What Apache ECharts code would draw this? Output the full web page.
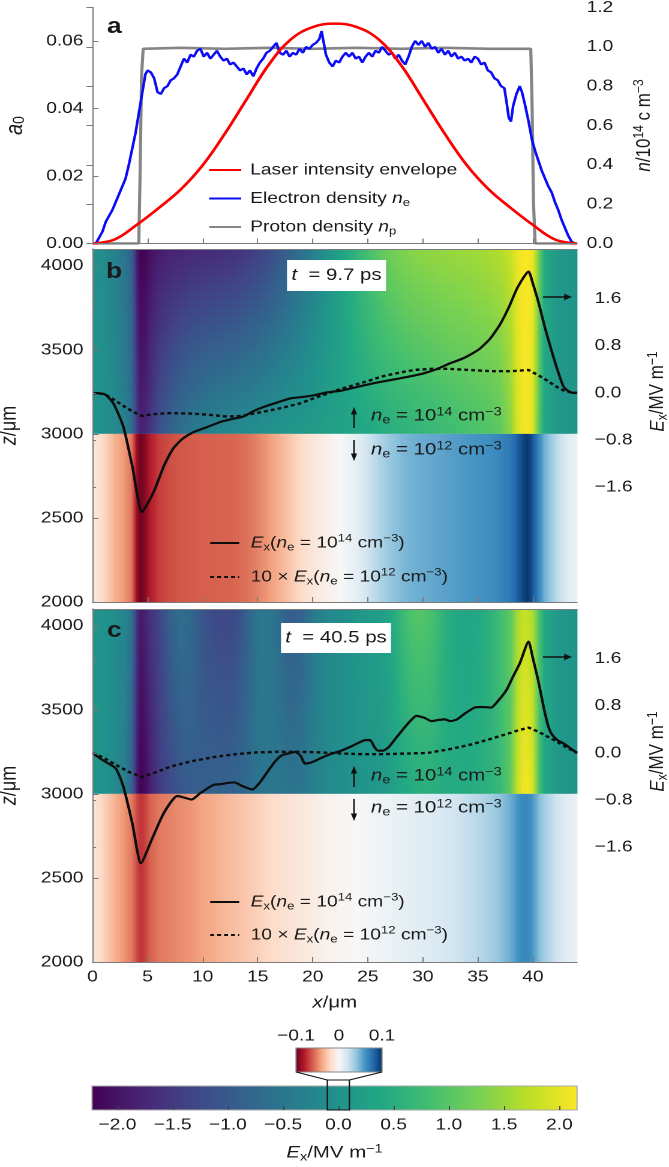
<!DOCTYPE html>
<html><head><meta charset="utf-8">
<script src="https://cdn.jsdelivr.net/npm/echarts@6.0.0/dist/echarts.min.js"></script>
<style>
html,body{margin:0;padding:0;background:#fff;overflow:hidden;}
#c{width:557.5px;height:1167px;transform:scaleX(1.2);transform-origin:0 0;}
</style></head><body><div id="c"></div>
<script>
// ---------------- data ----------------
const xTicks = [0,5,10,15,20,25,30,35,40];
const a0Ticks = [0,0.02,0.04,0.06];
const nTicks = [0,0.2,0.4,0.6,0.8,1.0,1.2];
const zTicks = [2000,2500,3000,3500,4000];
const exTicks = [-1.6,-0.8,0,0.8,1.6];
const cbTicks = [-2,-1.5,-1,-0.5,0,0.5,1,1.5,2];
const insetTicks = [-0.1,0,0.1];
const cbRange = [-2.23, 2.16];
const insetRange = [-0.1, 0.1];

const aLaser = [[0,0],[2,0.0012],[4,0.0055],[6,0.0105],[8,0.016],[10,0.0232],[12,0.0325],[14,0.0428],[16,0.053],[18,0.0605],[20,0.0642],[22,0.0652],[24,0.0642],[26,0.0605],[28,0.053],[30,0.0428],[32,0.0325],[34,0.0232],[36,0.016],[38,0.0105],[40,0.0055],[42,0.0012],[44,0]];
const aElectron = [[0.3,0],[0.6,0.03],[0.9,0.06],[1.2,0.11],[1.5,0.14],[1.8,0.17],[2.1,0.21],[2.4,0.25],[2.7,0.29],[3.0,0.33],[3.3,0.40],[3.6,0.48],[3.9,0.56],[4.2,0.66],[4.5,0.76],[4.8,0.86],[5.0,0.88],[5.3,0.87],[5.6,0.84],[5.9,0.77],[6.2,0.76],[6.5,0.79],[6.8,0.80],[7.1,0.83],[7.4,0.84],[7.7,0.86],[8.0,0.90],[8.3,0.94],[8.6,0.92],[8.9,0.96],[9.2,0.95],[9.5,0.98],[9.8,0.99],[10.1,0.95],[10.4,0.97],[10.7,0.94],[11.0,0.96],[11.3,0.98],[11.6,0.95],[11.9,0.93],[12.2,0.94],[12.5,0.91],[12.8,0.92],[13.1,0.90],[13.4,0.88],[13.7,0.89],[14.0,0.86],[14.3,0.88],[14.6,0.85],[14.9,0.89],[15.2,0.92],[15.5,0.94],[15.8,0.97],[16.1,0.98],[16.4,1.00],[16.7,1.02],[17.0,0.97],[17.3,0.96],[17.6,0.98],[17.9,0.95],[18.2,0.97],[18.5,0.96],[18.8,0.99],[19.1,0.97],[19.4,1.00],[19.7,0.99],[20.0,1.01],[20.3,1.02],[20.6,1.04],[20.8,1.08],[21.0,1.02],[21.2,0.96],[21.5,0.92],[21.8,0.90],[22.1,0.93],[22.4,0.92],[22.7,0.95],[23.0,0.97],[23.3,0.95],[23.6,0.97],[23.9,0.94],[24.2,0.95],[24.5,0.92],[24.8,0.95],[25.1,0.97],[25.4,0.95],[25.7,0.98],[26.0,0.97],[26.3,1.00],[26.6,0.98],[26.9,0.96],[27.2,0.97],[27.5,0.94],[27.8,0.96],[28.1,0.93],[28.4,0.91],[28.7,0.95],[29.0,1.00],[29.3,1.03],[29.6,1.01],[29.9,1.03],[30.2,1.00],[30.5,1.02],[30.8,0.99],[31.1,1.00],[31.4,0.97],[31.7,0.99],[32.0,0.96],[32.3,0.98],[32.6,0.95],[32.9,0.97],[33.2,0.94],[33.5,0.95],[33.8,0.93],[34.1,0.94],[34.4,0.92],[34.7,0.95],[35.0,0.94],[35.3,0.91],[35.6,0.92],[35.9,0.88],[36.2,0.87],[36.5,0.84],[36.8,0.83],[37.1,0.80],[37.4,0.79],[37.6,0.72],[37.8,0.64],[38.0,0.62],[38.2,0.70],[38.5,0.76],[38.8,0.80],[39.0,0.77],[39.3,0.70],[39.6,0.62],[39.9,0.53],[40.2,0.47],[40.5,0.42],[40.8,0.37],[41.1,0.33],[41.4,0.29],[41.7,0.26],[42.0,0.21],[42.3,0.17],[42.6,0.12],[42.9,0.08],[43.2,0.04],[43.5,0.01],[43.8,0]];
const aProton = [[0,0],[4.2,0],[4.32,0.35],[4.45,0.85],[4.6,0.99],[8,0.995],[12,0.99],[16,0.995],[20,0.99],[24,0.995],[28,0.99],[32,0.995],[36,0.99],[39.8,0.99],[39.92,0.7],[40.05,0.2],[40.2,0],[44,0]];

const bSolid = [[0,0],[1.1,-0.02],[1.9,-0.18],[2.8,-0.57],[3.6,-1.23],[4.5,-2.02],[5.55,-1.68],[6.5,-1.23],[7.3,-0.95],[8.1,-0.79],[9.0,-0.68],[9.8,-0.62],[10.8,-0.55],[11.8,-0.48],[12.7,-0.44],[13.7,-0.40],[14.6,-0.31],[15.65,-0.23],[16.8,-0.16],[18.0,-0.09],[19.0,-0.07],[20.1,-0.04],[21.3,0.01],[22.6,0.04],[24.0,0.10],[25.4,0.16],[26.5,0.20],[27.7,0.24],[28.8,0.28],[30.0,0.33],[31.2,0.40],[32.3,0.49],[33.8,0.60],[35.1,0.74],[36.1,0.92],[37.0,1.16],[37.8,1.45],[38.6,1.79],[39.6,2.06],[40.0,1.85],[40.5,1.54],[41.1,1.10],[41.7,0.71],[42.3,0.35],[42.8,0.10],[43.4,0.01],[44,0]];
const bDashed = [[0,0],[1.1,-0.02],[2.0,-0.12],[2.8,-0.22],[3.7,-0.32],[4.5,-0.39],[5.5,-0.36],[7.1,-0.34],[9.0,-0.35],[10.6,-0.37],[12.2,-0.40],[13.5,-0.39],[14.9,-0.34],[16.8,-0.27],[18.8,-0.18],[20.7,-0.05],[22.6,0.07],[24.6,0.18],[26.5,0.29],[28.0,0.35],[29.2,0.39],[30.8,0.41],[32.3,0.41],[34.2,0.39],[36.2,0.37],[38.0,0.37],[39.6,0.39],[40.5,0.30],[41.3,0.21],[42.1,0.11],[42.8,0.04],[43.5,0.01],[44,0]];
const cSolid = [[0,0],[0.9,-0.12],[2.1,-0.26],[2.8,-0.57],[3.6,-1.18],[4.4,-1.87],[5.4,-1.46],[6.5,-1.01],[7.7,-0.73],[8.4,-0.76],[9.0,-0.79],[9.8,-0.68],[11.0,-0.54],[11.6,-0.53],[12.2,-0.51],[12.9,-0.50],[13.6,-0.56],[14.5,-0.62],[15.2,-0.50],[16.0,-0.29],[16.6,-0.14],[17.2,-0.04],[18.0,0.0],[18.4,0.02],[18.9,-0.05],[19.3,-0.18],[19.9,-0.16],[20.7,-0.09],[21.6,-0.02],[22.6,0.04],[23.6,0.12],[24.6,0.21],[25.2,0.22],[25.6,0.10],[25.9,0.04],[26.4,0.04],[26.9,0.10],[27.5,0.24],[28.1,0.38],[28.8,0.53],[29.4,0.63],[30.1,0.60],[30.8,0.54],[31.4,0.56],[32.0,0.57],[32.5,0.54],[33.1,0.57],[33.9,0.68],[34.7,0.77],[35.4,0.78],[36.2,0.77],[36.9,0.90],[37.6,1.07],[38.2,1.30],[38.8,1.52],[39.6,1.89],[40.0,1.60],[40.5,1.21],[41.0,0.75],[41.4,0.45],[41.7,0.32],[42.2,0.22],[42.8,0.16],[43.4,0.08],[44,0]];
const cDashed = [[0,0],[1.0,-0.08],[2.1,-0.2],[3.3,-0.32],[4.5,-0.41],[5.7,-0.33],[7.1,-0.23],[9.0,-0.14],[11.0,-0.07],[13.0,-0.02],[14.9,0.01],[16.8,0.02],[18.8,0.02],[20.7,0.01],[22.6,-0.01],[24.6,-0.02],[26.5,-0.02],[28.5,-0.01],[30.4,0.0],[32.3,0.06],[34.3,0.14],[36.0,0.23],[37.4,0.31],[38.6,0.38],[39.6,0.43],[40.5,0.36],[41.3,0.28],[42.1,0.20],[43.0,0.10],[44,0]];

// field maps: column nodes along x; viridis part at z=4100 (top) and z=3000 (bottom); RdBu part (ne=1e12)
const zRange = [2000, 3000, 4100];
const xNodes = [0,1,2,3,3.6,4.0,4.3,4.7,5.2,6,7,8,9,10,11,12,13,14,15,16,17,18,19,20,21,22,23,24,25,26,27,28,29,30,31,32,33,34,35,36,37,38,38.5,39,39.5,40,40.5,41,42,43,44];
const bTopEx = [-0.05,-0.1,-0.3,-0.55,-0.9,-1.8,-2.2,-2.2,-2.05,-1.9,-1.82,-1.77,-1.73,-1.7,-1.68,-1.65,-1.6,-1.5,-1.4,-1.25,-1.05,-0.85,-0.6,-0.35,-0.1,0.15,0.4,0.65,0.85,1.05,1.2,1.3,1.38,1.42,1.45,1.48,1.5,1.52,1.55,1.6,1.65,1.8,2.0,2.12,2.15,2.05,1.3,0.5,0.15,0.05,0.05];
const bBotEx = [0.0,-0.05,-0.15,-0.35,-0.7,-1.4,-1.8,-1.8,-1.55,-1.15,-0.85,-0.6,-0.45,-0.35,-0.25,-0.2,-0.15,-0.1,-0.05,0.0,0.05,0.1,0.12,0.15,0.2,0.25,0.3,0.35,0.4,0.45,0.5,0.55,0.6,0.65,0.7,0.75,0.8,0.85,0.9,0.95,1.05,1.4,1.85,2.05,2.1,1.95,1.1,0.4,0.15,0.05,0.05];
const bLowEx = [-0.01,-0.02,-0.035,-0.045,-0.055,-0.085,-0.097,-0.093,-0.08,-0.07,-0.065,-0.062,-0.061,-0.06,-0.06,-0.059,-0.058,-0.055,-0.05,-0.043,-0.035,-0.027,-0.019,-0.012,-0.007,-0.002,0.003,0.01,0.02,0.03,0.038,0.044,0.048,0.05,0.052,0.054,0.056,0.058,0.06,0.062,0.066,0.072,0.08,0.09,0.098,0.085,0.068,0.05,0.03,0.014,0.005];
const cTopEx = [0.05,0.0,-0.1,-0.25,-0.6,-1.5,-1.9,-1.85,-1.6,-1.35,-0.9,-0.6,-0.75,-1.1,-1.25,-1.3,-1.25,-0.9,-0.5,-0.45,-0.7,-0.95,-0.85,-0.45,-0.25,-0.15,-0.05,0.05,0.15,0.2,0.35,0.7,0.95,1.0,0.85,0.55,0.4,0.35,0.4,0.55,0.8,1.05,1.5,1.75,1.75,1.6,1.0,0.45,0.15,0.05,0.05];
const cBotEx = [0.05,0.0,-0.15,-0.4,-0.9,-1.8,-2.2,-2.15,-1.9,-1.5,-1.25,-1.05,-0.95,-0.9,-0.85,-0.85,-0.8,-0.7,-0.55,-0.5,-0.5,-0.55,-0.5,-0.35,-0.2,-0.1,-0.05,0.0,0.05,0.1,0.2,0.35,0.45,0.5,0.5,0.45,0.45,0.45,0.5,0.55,0.7,1.1,1.7,2.05,2.1,1.9,1.0,0.4,0.15,0.05,0.05];
const cLowEx = [-0.012,-0.022,-0.035,-0.046,-0.053,-0.065,-0.072,-0.07,-0.06,-0.053,-0.05,-0.047,-0.044,-0.04,-0.037,-0.033,-0.03,-0.027,-0.024,-0.02,-0.017,-0.014,-0.011,-0.008,-0.005,-0.003,-0.001,0.0,0.002,0.004,0.006,0.008,0.01,0.012,0.014,0.017,0.02,0.024,0.028,0.033,0.04,0.05,0.058,0.065,0.066,0.058,0.045,0.035,0.022,0.012,0.006];

// ---------------- style / layout ----------------
const SX = 1.2; // reference figure is stretched horizontally
const PL = 92.5 / SX, PR = 577 / SX, PWd = PR - PL;
const FONT = "'Liberation Sans', Arial, Helvetica, sans-serif";
const TXT = '#1a1a1a', AX = '#7a7a7a';
const G = [
  {left: PL, width: PWd, top: 7.5, height: 236},
  {left: PL, width: PWd, top: 249, height: 353},
  {left: PL, width: PWd, top: 258, height: 267},
  {left: PL, width: PWd, top: 609, height: 353},
  {left: PL, width: PWd, top: 618, height: 267},
  {left: 92 / SX, width: 485 / SX, top: 1086, height: 24},
  {left: 296 / SX, width: 86 / SX, top: 1048, height: 24}
];
const VIR = ['#440154','#482475','#414487','#355f8d','#2a788e','#21918c','#22a884','#44bf70','#7ad151','#bddf26','#fde725'];
const RDBU = ['#67001f','#b2182b','#d6604d','#f4a582','#fddbc7','#f7f7f7','#d1e5f0','#92c5de','#4393c3','#2166ac','#053061'];
const hexRgb = h => [parseInt(h.slice(1,3),16), parseInt(h.slice(3,5),16), parseInt(h.slice(5,7),16)];
const virRGB = VIR.map(hexRgb), rdRGB = RDBU.map(hexRgb);
function cmap(tab, t) {
  t = Math.max(0, Math.min(1, t));
  const n = tab.length - 1; let k = Math.floor(t * n); if (k >= n) k = n - 1;
  const f = t * n - k, a = tab[k], b = tab[k + 1];
  return 'rgb(' + [0,1,2].map(j => Math.round(a[j] + (b[j] - a[j]) * f)).join(',') + ')';
}
const virC = v => cmap(virRGB, (v - cbRange[0]) / (cbRange[1] - cbRange[0]));
const rdC = v => cmap(rdRGB, (v - insetRange[0]) / (insetRange[1] - insetRange[0]));
function grad(v0, v1, cf) {
  const st = [];
  for (let s = 0; s <= 4; s++) st.push({offset: s / 4, color: cf(v0 + (v1 - v0) * s / 4)});
  return new echarts.graphic.LinearGradient(0, 0, 1, 0, st);
}
const rich = fs => ({
  i: {fontStyle: 'italic', fontSize: fs, fontFamily: FONT, color: TXT},
  sup: {fontSize: Math.round(fs * 0.68), verticalAlign: 'top', fontFamily: FONT, color: TXT},
  sub: {fontSize: Math.round(fs * 0.68), verticalAlign: 'bottom', fontFamily: FONT, color: TXT}
});
const richG = fs => ({
  i: {fontStyle: 'italic', fontSize: fs, fontFamily: FONT, fill: TXT},
  sup: {fontSize: Math.round(fs * 0.68), verticalAlign: 'top', fontFamily: FONT, fill: TXT},
  sub: {fontSize: Math.round(fs * 0.68), verticalAlign: 'bottom', fontFamily: FONT, fill: TXT}
});
const minus = s => s.replace('-', '\u2212');
const fmt = d => v => minus(Number(v).toFixed(d));
const lbl = (extra) => Object.assign({fontSize: 16, fontFamily: FONT, color: TXT}, extra);
const nameStyle = fs => ({fontSize: fs, fontFamily: FONT, color: TXT, lineHeight: 20, rich: rich(fs)});
const frame = {show: true, lineStyle: {color: AX, width: 1}};
const tickIn = vals => ({show: true, inside: true, length: 5, lineStyle: {color: AX}, customValues: vals});

function xA(grid, opts) {
  return Object.assign({type: 'value', gridIndex: grid, min: 0, max: 44, splitLine: {show: false},
    axisLine: frame, axisTick: {show: false}, axisLabel: {show: false}, z: 10}, opts);
}
function yA(grid, opts) {
  return Object.assign({type: 'value', gridIndex: grid, splitLine: {show: false},
    axisLine: frame, axisTick: {show: false}, axisLabel: {show: false}, z: 10}, opts);
}
const exAxis = grid => yA(grid, {position: 'right', offset: 6.7, min: -2.24, max: 2.29,
  axisLine: {show: true, lineStyle: {color: '#777', width: 1}},
  axisTick: {show: true, inside: false, length: 3, lineStyle: {color: '#777'}, customValues: exTicks},
  axisLabel: lbl({show: true, customValues: exTicks, formatter: fmt(1), margin: 8}),
  name: '{i|E}{sub|x}/MV m{sup|\u22121}', nameLocation: 'middle', nameRotate: 90, nameGap: 46, nameTextStyle: nameStyle(17)});
const zAxis = grid => yA(grid, {position: 'left', min: zRange[0], max: zRange[2], axisTick: tickIn(zTicks),
  axisLabel: lbl({show: true, customValues: zTicks, formatter: v => String(v), margin: 7.5}),
  name: '{i|z}/\u03bcm', nameLocation: 'middle', nameRotate: 90, nameGap: 59, nameTextStyle: nameStyle(18)});

function heatItem(top, bot, low) {
  return function (params, api) {
    const i = api.value(2);
    const x0 = xNodes[i], x1 = xNodes[i + 1];
    const pa = api.coord([x0, zRange[1]]), pb = api.coord([x1, zRange[1]]);
    const xl = pa[0] - 0.35, w = pb[0] + 0.35 - xl;
    const kids = [];
    const S = 22;
    for (let k = 0; k < S; k++) {
      const za = zRange[1] + (zRange[2] - zRange[1]) * k / S;
      const zb = zRange[1] + (zRange[2] - zRange[1]) * (k + 1) / S;
      const ya = api.coord([x0, za])[1], yb = api.coord([x0, zb])[1];
      const f = (k + 0.5) / S;
      const vl = bot[i] + (top[i] - bot[i]) * f, vr = bot[i + 1] + (top[i + 1] - bot[i + 1]) * f;
      kids.push({type: 'rect', shape: {x: xl, y: yb - 0.35, width: w, height: ya - yb + (k === 0 ? 0.35 : 0.7)},
        style: {fill: grad(vl, vr, virC)}});
    }
    const y0 = api.coord([x0, zRange[0]])[1];
    kids.push({type: 'rect', shape: {x: xl, y: pa[1], width: w, height: y0 - pa[1]}, style: {fill: grad(low[i], low[i + 1], rdC)}});
    return {type: 'group', children: kids};
  };
}
const heatData = xNodes.slice(0, -1).map((x, i) => [x, xNodes[i + 1], i]);

const lineS = (name, data, xi, yi, color, width, extra) => Object.assign({
  type: 'line', name, data, xAxisIndex: xi, yAxisIndex: yi, showSymbol: false, symbol: 'none',
  lineStyle: {color, width}, itemStyle: {color}, z: 5, animation: false}, extra);

const LEG = {
  'Laser intensity envelope': 'Laser intensity envelope',
  'Electron density': 'Electron density {i|n}{sub|e}',
  'Proton density': 'Proton density {i|n}{sub|p}',
  'Ex14': '{i|E}{sub|x}({i|n}{sub|e} = 10{sup|14} cm{sup|\u22123})',
  'Ex12': '10 \u00d7 {i|E}{sub|x}({i|n}{sub|e} = 10{sup|12} cm{sup|\u22123})'
};
const legendBase = (data, left, top, iw, gap, pad) => ({
  data, orient: 'vertical', left, top, padding: 0, itemWidth: iw, itemHeight: 12, itemGap: gap, selectedMode: false,
  itemStyle: {opacity: 0, color: 'rgba(0,0,0,0)', borderColor: 'rgba(0,0,0,0)', borderWidth: 0},
  textStyle: {fontSize: 16, fontFamily: FONT, color: TXT, lineHeight: 20, padding: [0, 0, 0, pad], rich: rich(16)},
  formatter: n => LEG[n]
});

// annotations
function gText(x, y, text, fs, extra) {
  return Object.assign({type: 'text', x, y, z: 100, style: {text, fontSize: fs, fontFamily: FONT, fill: TXT,
    align: 'left', verticalAlign: 'middle', lineHeight: 20, rich: richG(fs)}}, extra || {});
}
function vArrow(x, y0, y1) { // from y0 to y1 (head at y1)
  const d = y1 > y0 ? 1 : -1;
  return [
    {type: 'line', z: 100, shape: {x1: x, y1: y0, x2: x, y2: y1 - d * 6}, style: {stroke: '#111', lineWidth: 1.3}},
    {type: 'polygon', z: 100, shape: {points: [[x, y1], [x - 2.6, y1 - d * 7.5], [x + 2.6, y1 - d * 7.5]]}, style: {fill: '#111'}}
  ];
}
function hArrow(x0, x1, y) {
  return [
    {type: 'line', z: 100, shape: {x1: x0, y1: y, x2: x1 - 5, y2: y}, style: {stroke: '#111', lineWidth: 1.4}},
    {type: 'polygon', z: 100, shape: {points: [[x1, y], [x1 - 6.5, y - 3.3], [x1 - 6.5, y + 3.3]]}, style: {fill: '#111'}}
  ];
}
const AX_ = 354 / SX, TX_ = 371 / SX;
const letter = (x, y, t) => ({type: 'text', x, y, z: 100, style: {text: t, fontSize: 22, fontWeight: 'bold', fontFamily: FONT, fill: TXT, verticalAlign: 'middle'}});
const tLabel = (cx, cy, t) => ({type: 'text', x: cx, y: cy, z: 100, style: {text: '{i|t}  = ' + t, fontSize: 17, fontFamily: FONT, fill: TXT, align: 'center', verticalAlign: 'middle', rich: richG(17)}});
const graphics = [
  letter(107 / SX, 27, 'a'), letter(106 / SX, 272, 'b'), letter(107 / SX, 631, 'c'),
  {type: 'rect', z: 99, shape: {x: 287 / SX, y: 260, width: 99 / SX, height: 31}, style: {fill: '#fff'}},
  tLabel(336.5 / SX, 275.5, '9.7 ps'),
  {type: 'rect', z: 99, shape: {x: 281 / SX, y: 623, width: 110 / SX, height: 30}, style: {fill: '#fff'}},
  tLabel(336 / SX, 638, '40.5 ps'),
  gText(TX_, 416, '{i|n}{sub|e} = 10{sup|14} cm{sup|\u22123}', 17),
  gText(TX_, 450, '{i|n}{sub|e} = 10{sup|12} cm{sup|\u22123}', 17),
  gText(TX_, 776, '{i|n}{sub|e} = 10{sup|14} cm{sup|\u22123}', 17),
  gText(TX_, 808, '{i|n}{sub|e} = 10{sup|12} cm{sup|\u22123}', 17),
  ...vArrow(AX_, 428, 407), ...vArrow(AX_, 440, 461),
  ...vArrow(AX_, 787, 766), ...vArrow(AX_, 799, 821),
  ...hArrow(543 / SX, 572 / SX, 297), ...hArrow(543 / SX, 572 / SX, 657)
];

const option = {
  animation: false,
  backgroundColor: '#fff',
  grid: G.map(g => Object.assign({containLabel: false, outerBoundsMode: 'none'}, g)),
  xAxis: [
    xA(0, {position: 'bottom', axisTick: tickIn(xTicks)}),
    xA(0, {position: 'top'}),
    xA(1, {position: 'bottom', axisTick: tickIn(xTicks)}),
    xA(1, {position: 'top'}),
    xA(2, {show: false}),
    xA(3, {position: 'bottom', axisTick: tickIn(xTicks),
      axisLabel: lbl({show: true, customValues: xTicks, formatter: v => String(v), margin: 7}),
      name: '{i|x}/\u03bcm', nameLocation: 'middle', nameGap: 31, nameTextStyle: nameStyle(17)}),
    xA(3, {position: 'top'}),
    xA(4, {show: false}),
    {type: 'value', gridIndex: 5, min: cbRange[0], max: cbRange[1], splitLine: {show: false}, axisLine: {show: false}, z: 10,
      axisTick: {show: true, inside: true, length: 4, lineStyle: {color: '#444'}, customValues: cbTicks},
      axisLabel: lbl({customValues: cbTicks, formatter: fmt(1), margin: 7}),
      name: '{i|E}{sub|x}/MV m{sup|\u22121}', nameLocation: 'middle', nameGap: 33, nameTextStyle: nameStyle(17)},
    {type: 'value', gridIndex: 6, min: insetRange[0], max: insetRange[1], position: 'top', splitLine: {show: false},
      axisLine: {show: false}, axisTick: {show: false}, z: 10,
      axisLabel: lbl({customValues: insetTicks, formatter: v => (Math.abs(v) < 1e-9 ? '0' : fmt(1)(v)), margin: 4})}
  ],
  yAxis: [
    yA(0, {position: 'left', min: 0, max: 0.07, axisTick: tickIn(a0Ticks),
      axisLabel: lbl({show: true, customValues: a0Ticks, formatter: fmt(2), margin: 7.5}),
      name: '{i|a}{sub|0}', nameLocation: 'middle', nameRotate: 90, nameGap: 54, nameTextStyle: nameStyle(20)}),
    yA(0, {position: 'right', min: 0, max: 1.2, axisTick: tickIn(nTicks),
      axisLabel: lbl({show: true, customValues: nTicks, formatter: fmt(1), margin: 8}),
      name: '{i|n}/10{sup|14} c m{sup|\u22123}', nameLocation: 'middle', nameRotate: 90, nameGap: 46, nameTextStyle: nameStyle(17)}),
    zAxis(1),
    yA(1, {position: 'right', min: zRange[0], max: zRange[2]}),
    exAxis(2),
    zAxis(3),
    yA(3, {position: 'right', min: zRange[0], max: zRange[2]}),
    exAxis(4),
    {type: 'value', gridIndex: 5, min: 0, max: 1, show: false},
    {type: 'value', gridIndex: 6, min: 0, max: 1, show: false}
  ],
  legend: [
    legendBase(['Laser intensity envelope', 'Electron density', 'Proton density'], 208 / SX, 160, 32 / SX, 8.5, 2.5),
    legendBase(['Ex14', 'Ex12'], 209 / SX, 533, 29 / SX, 14, 4.5),
    legendBase(['Ex14', 'Ex12'], 209 / SX, 892, 29 / SX, 13, 4.5)
  ],
  series: [
    {type: 'custom', name: 'field b', xAxisIndex: 2, yAxisIndex: 2, data: heatData, renderItem: heatItem(bTopEx, bBotEx, bLowEx), clip: true, z: 1, silent: true},
    {type: 'custom', name: 'field c', xAxisIndex: 5, yAxisIndex: 5, data: heatData, renderItem: heatItem(cTopEx, cBotEx, cLowEx), clip: true, z: 1, silent: true},
    lineS('Proton density', aProton, 0, 1, '#858585', 2.6, {z: 3}),
    lineS('Electron density', aElectron, 0, 1, '#0b0bf5', 2.2, {z: 4}),
    lineS('Laser intensity envelope', aLaser, 0, 0, '#fa0000', 2.5, {z: 5, smooth: 0.4}),
    lineS('Ex14', bSolid, 4, 4, '#0d0d0d', 2.2, {clip: false, smooth: 0.2}),
    lineS('Ex12', bDashed, 4, 4, '#0d0d0d', 2.4, {clip: false, lineStyle: {color: '#0d0d0d', width: 2.4, type: [3.2, 2.6]}}),
    lineS('Ex14', cSolid, 7, 7, '#0d0d0d', 2.2, {clip: false, smooth: 0.2}),
    lineS('Ex12', cDashed, 7, 7, '#0d0d0d', 2.4, {clip: false, lineStyle: {color: '#0d0d0d', width: 2.4, type: [3.2, 2.6]}}),
    {type: 'custom', xAxisIndex: 8, yAxisIndex: 8, data: [[cbRange[0], cbRange[1]]], silent: true, z: 2,
      renderItem: (p, api) => {
        const a = api.coord([api.value(0), 1]), b = api.coord([api.value(1), 0]);
        return {type: 'rect', shape: {x: a[0], y: a[1], width: b[0] - a[0], height: b[1] - a[1]},
          style: {fill: new echarts.graphic.LinearGradient(0, 0, 1, 0, VIR.map((c, k) => ({offset: k / (VIR.length - 1), color: c}))), stroke: '#aaa', lineWidth: 1}};
      }},
    {type: 'custom', xAxisIndex: 9, yAxisIndex: 9, data: [[insetRange[0], insetRange[1]]], silent: true, z: 2,
      renderItem: (p, api) => {
        const a = api.coord([api.value(0), 1]), b = api.coord([api.value(1), 0]);
        return {type: 'rect', shape: {x: a[0], y: a[1], width: b[0] - a[0], height: b[1] - a[1]},
          style: {fill: new echarts.graphic.LinearGradient(0, 0, 1, 0, RDBU.map((c, k) => ({offset: k / (RDBU.length - 1), color: c}))), stroke: '#888', lineWidth: 1}};
      }},
    {type: 'custom', xAxisIndex: 8, yAxisIndex: 8, data: [[insetRange[0], insetRange[1]]], silent: true, z: 12, clip: false,
      renderItem: (p, api) => {
        const a = api.coord([api.value(0), 1]), b = api.coord([api.value(1), 0]);
        const top = a[1] - 6, iy = G[6].top + G[6].height;
        const st = {stroke: '#111', lineWidth: 1.1, fill: 'none'};
        return {type: 'group', children: [
          {type: 'rect', shape: {x: a[0], y: top, width: b[0] - a[0], height: b[1] - top}, style: st},
          {type: 'polyline', shape: {points: [[G[6].left, iy], [a[0], top]]}, style: st},
          {type: 'polyline', shape: {points: [[G[6].left + G[6].width, iy], [b[0], top]]}, style: st}
        ]};
      }}
  ],
  graphic: graphics
};

const chart = echarts.init(document.getElementById('c'), null, {renderer: 'canvas', devicePixelRatio: 2});
chart.setOption(option);
</script></body></html>
